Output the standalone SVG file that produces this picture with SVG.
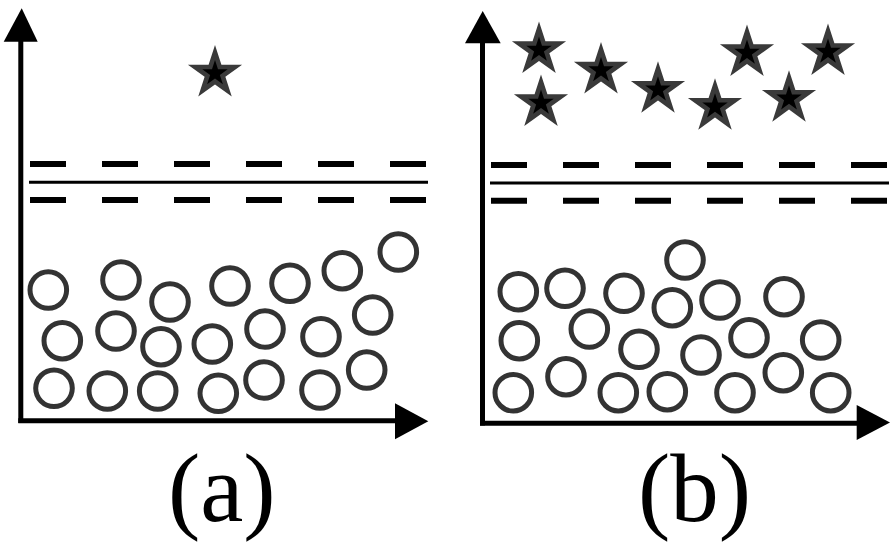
<svg xmlns="http://www.w3.org/2000/svg" xmlns:xlink="http://www.w3.org/1999/xlink" width="894" height="545" viewBox="0 0 894 545">
<style>
.axis{stroke:#000;stroke-width:5;fill:none}
.head{fill:#000}
.dash{stroke:#000;stroke-width:6;stroke-dasharray:36 36;fill:none}
.solid{stroke:#000;stroke-width:3;fill:none}
.c{fill:none;stroke:#333;stroke-width:5}
.lbl{font-family:"Liberation Serif",Tinos,"Times New Roman",Times,"Nimbus Roman","Nimbus Roman No9 L","Noto Serif",FreeSerif,"DejaVu Serif",Georgia,serif;font-size:97px;fill:#000}
</style>
<defs>
<path id="star" d="M0,-28.5 L6.41,-8.82 L27.1,-8.8 L10.37,3.37 L16.75,23.06 L0,10.9 L-16.75,23.06 L-10.37,3.37 L-27.1,-8.8 L-6.41,-8.82 Z"/>
<g id="st">
<use xlink:href="#star" href="#star" fill="#3a3a3a"/>
<use xlink:href="#star" href="#star" fill="#000" transform="scale(0.47)"/>
</g>
</defs>
<rect width="894" height="545" fill="#fff"/>

<g id="panel-a">
<g id="axes-a">
<line class="axis" x1="20.8" y1="40" x2="20.8" y2="423"/>
<polygon class="head" points="21.7,8.3 37.7,41.7 3.7,41.7"/>
<line class="axis" x1="18.3" y1="420.8" x2="397" y2="420.8"/>
<polygon class="head" points="395,403.3 428.3,421.3 395,439.3"/>
</g>
<g id="membrane-a">
<line class="dash" x1="30" y1="164" x2="426" y2="164"/>
<line class="solid" x1="29" y1="182.3" x2="428" y2="182.3"/>
<line class="dash" x1="30" y1="200" x2="426" y2="200"/>
</g>
<g id="stars-a">
<use xlink:href="#st" href="#st" x="215" y="73.5"/>
</g>
<g id="circles-a">
<circle class="c" cx="48.3" cy="290" r="18.3"/>
<circle class="c" cx="121" cy="280" r="18.3"/>
<circle class="c" cx="170" cy="302" r="18.3"/>
<circle class="c" cx="230" cy="286" r="18.3"/>
<circle class="c" cx="290" cy="283.3" r="18.3"/>
<circle class="c" cx="342.3" cy="270.7" r="18.3"/>
<circle class="c" cx="398.3" cy="252" r="18.3"/>
<circle class="c" cx="62.3" cy="340.7" r="18.3"/>
<circle class="c" cx="116" cy="331" r="18.3"/>
<circle class="c" cx="161" cy="346.7" r="18.3"/>
<circle class="c" cx="212.3" cy="344" r="18.3"/>
<circle class="c" cx="265" cy="329" r="18.3"/>
<circle class="c" cx="321" cy="336.7" r="18.3"/>
<circle class="c" cx="372.7" cy="315" r="18.3"/>
<circle class="c" cx="54" cy="388.3" r="18.3"/>
<circle class="c" cx="107.3" cy="391" r="18.3"/>
<circle class="c" cx="157.7" cy="391" r="18.3"/>
<circle class="c" cx="218.3" cy="393.3" r="18.3"/>
<circle class="c" cx="264" cy="380" r="18.3"/>
<circle class="c" cx="320" cy="390" r="18.3"/>
<circle class="c" cx="366.7" cy="370" r="18.3"/>
</g>
<text id="label-a" class="lbl" x="168" y="521">(a)</text>
</g>

<g id="panel-b">
<g id="axes-b">
<line class="axis" x1="482.5" y1="42" x2="482.5" y2="425.5"/>
<polygon class="head" points="482.7,11 500.7,43.3 465,43.3"/>
<line class="axis" x1="480" y1="423.3" x2="858" y2="423.3"/>
<polygon class="head" points="856.7,405 890,422.5 856.7,440"/>
</g>
<g id="membrane-b">
<line class="dash" x1="491" y1="165" x2="887" y2="165"/>
<line class="solid" x1="490" y1="183" x2="889" y2="183"/>
<line class="dash" x1="491" y1="200.7" x2="887" y2="200.7"/>
</g>
<g id="stars-b">
<use xlink:href="#st" href="#st" x="539" y="50"/>
<use xlink:href="#st" href="#st" x="541" y="103"/>
<use xlink:href="#st" href="#st" x="601" y="70.5"/>
<use xlink:href="#st" href="#st" x="658" y="89.7"/>
<use xlink:href="#st" href="#st" x="715" y="106.7"/>
<use xlink:href="#st" href="#st" x="747" y="53"/>
<use xlink:href="#st" href="#st" x="789" y="98.7"/>
<use xlink:href="#st" href="#st" x="828" y="52"/>
</g>
<g id="circles-b">
<circle class="c" cx="685" cy="260" r="18.3"/>
<circle class="c" cx="518.3" cy="291.7" r="18.3"/>
<circle class="c" cx="565" cy="288.3" r="18.3"/>
<circle class="c" cx="624" cy="293.3" r="18.3"/>
<circle class="c" cx="672.3" cy="307.7" r="18.3"/>
<circle class="c" cx="720" cy="300" r="18.3"/>
<circle class="c" cx="784" cy="296.7" r="18.3"/>
<circle class="c" cx="519.3" cy="340.7" r="18.3"/>
<circle class="c" cx="589.3" cy="329" r="18.3"/>
<circle class="c" cx="639" cy="349.3" r="18.3"/>
<circle class="c" cx="701" cy="355" r="18.3"/>
<circle class="c" cx="749" cy="337.7" r="18.3"/>
<circle class="c" cx="820.7" cy="340" r="18.3"/>
<circle class="c" cx="513.3" cy="392.7" r="18.3"/>
<circle class="c" cx="566" cy="376.7" r="18.3"/>
<circle class="c" cx="618.3" cy="392.7" r="18.3"/>
<circle class="c" cx="667.3" cy="391.7" r="18.3"/>
<circle class="c" cx="735" cy="392.7" r="18.3"/>
<circle class="c" cx="783.3" cy="372.7" r="18.3"/>
<circle class="c" cx="830.7" cy="392.7" r="18.3"/>
</g>
<text id="label-b" class="lbl" x="638" y="521">(b)</text>
</g>
</svg>
